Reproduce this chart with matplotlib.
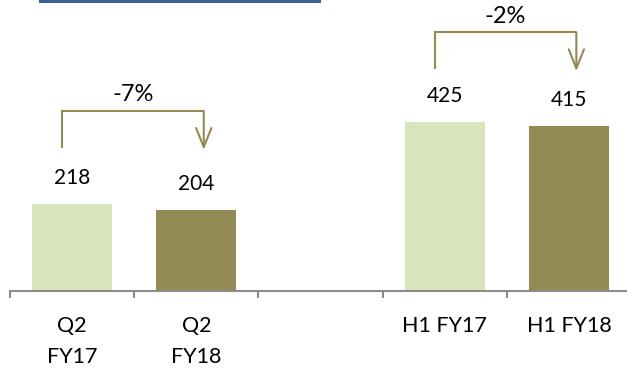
import matplotlib
matplotlib.use("Agg")
import matplotlib.pyplot as plt
import numpy as np
from matplotlib.patches import Rectangle

plt.rcParams['font.family'] = ['Lato', 'DejaVu Sans']

# Data
categories = ["Q2\nFY17", "Q2\nFY18", "", "H1 FY17", "H1 FY18"]
values = [218, 204, np.nan, 425, 415]
bar_colors = ["#D8E4BC", "#948A54", "#FFFFFF", "#D8E4BC", "#948A54"]
value_labels = ["218", "204", "", "425", "415"]

# Change brackets: (from index, to index, label)
changes = [(0, 1, "-7%"), (3, 4, "-2%")]

OLIVE = "#948A54"
AXIS_GREY = "#8C8C8C"

fig = plt.figure(figsize=(6.27, 3.72), dpi=100)
ax = fig.add_axes([10 / 627, (372 - 291) / 372, 621 / 627, 291 / 372])

x = np.arange(len(categories))
ax.bar(x, values, width=0.645, color=bar_colors, zorder=2)

for xi, v, lab in zip(x, values, value_labels):
    if lab:
        ax.annotate(lab, xy=(xi, v), xytext=(0, 19), textcoords="offset points",
                    ha="center", va="center", fontsize=15, color="#000000")

# Brackets with down-pointing arrows showing the change
bracket_geom = {0: (360, 453, 355), 3: (558, 651, 553)}
for i, j, lab in changes:
    yb, yt, tip = bracket_geom[i]
    xl, xr = i - 0.08, j + 0.06
    ax.plot([xl, xl, xr], [yb, yt, yt], color=OLIVE, lw=1.5,
            solid_joinstyle="miter", solid_capstyle="butt", zorder=3)
    ax.annotate("", xy=(xr, tip), xytext=(xr, yt),
                arrowprops=dict(arrowstyle="->,head_length=1.37,head_width=0.55",
                                color=OLIVE, lw=1.5, shrinkA=0, shrinkB=0,
                                mutation_scale=10))
    ax.annotate(lab, xy=((xl + xr) / 2, yt), xytext=(0, 11.5),
                textcoords="offset points", ha="center", va="center",
                size=17, color="#000000")

ax.set_xlim(-0.5, len(categories) - 0.5)
ax.set_ylim(0, 732)

for s in ("top", "right", "left"):
    ax.spines[s].set_visible(False)
ax.spines["bottom"].set_color(AXIS_GREY)
ax.spines["bottom"].set_linewidth(1.5)
ax.yaxis.set_visible(False)

ax.set_xticks(np.arange(len(categories) + 1) - 0.5)
ax.set_xticklabels([])
ax.tick_params(axis="x", which="major", length=5, width=1.5, color=AXIS_GREY,
               direction="out")
ax.set_xticks(x, minor=True)
ax.set_xticklabels(categories, minor=True, fontsize=15.5, linespacing=1.7)
ax.tick_params(axis="x", which="minor", length=0, pad=18)

# Header rule at the top edge
fig.add_artist(Rectangle((39 / 627, 1 - 2.7 / 372), (321 - 39) / 627, 2.7 / 372,
                         transform=fig.transFigure, color="#3A5F95", lw=0))

fig.savefig("out.png", dpi=100)
